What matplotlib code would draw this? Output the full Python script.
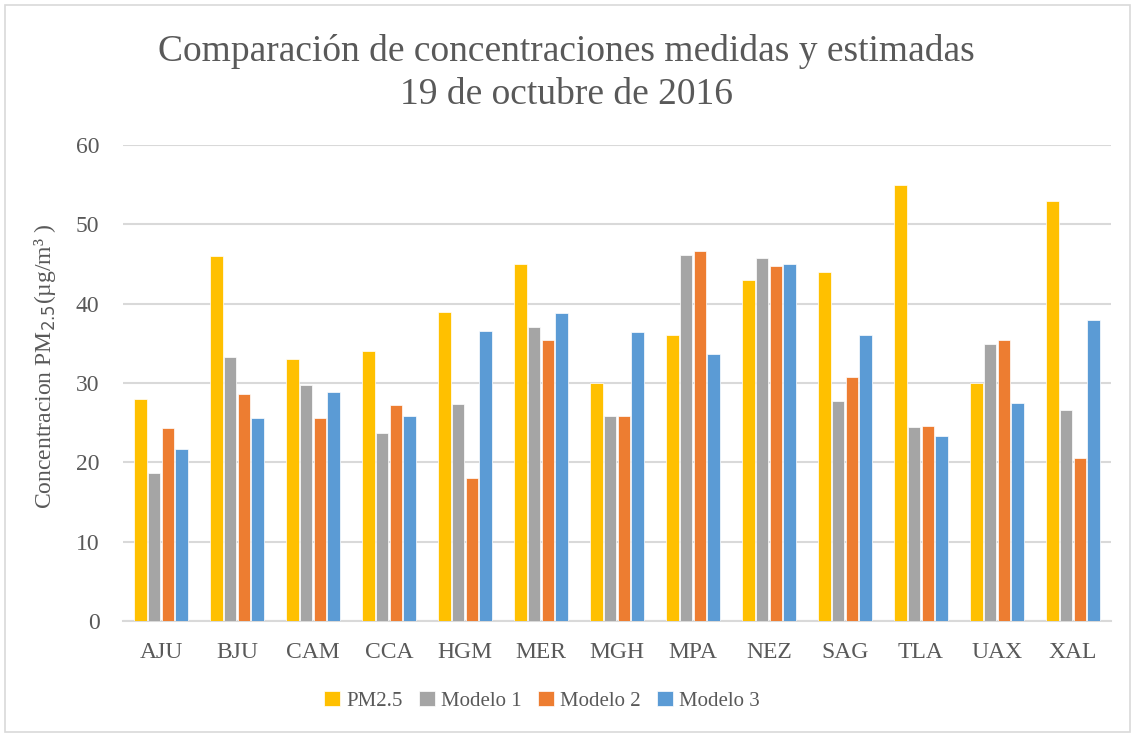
import matplotlib
matplotlib.use("Agg")
import matplotlib.pyplot as plt
import numpy as np
from matplotlib.patches import Rectangle

estaciones = ["AJU", "BJU", "CAM", "CCA", "HGM", "MER", "MGH", "MPA", "NEZ", "SAG", "TLA", "UAX", "XAL"]
pm25 = [28, 46, 33, 34, 39, 45, 30, 36, 43, 44, 55, 30, 53]
modelo1 = [18.7, 33.3, 29.7, 23.7, 27.3, 37.0, 25.9, 46.1, 45.8, 27.7, 24.4, 34.9, 26.6]
modelo2 = [24.3, 28.6, 25.6, 27.2, 18.0, 35.4, 25.9, 46.6, 44.7, 30.7, 24.6, 35.4, 20.6]
modelo3 = [21.7, 25.6, 28.9, 25.8, 36.5, 38.8, 36.4, 33.6, 45.0, 36.0, 23.3, 27.5, 37.9]

series = [("PM2.5", pm25, "#FFC000"),
          ("Modelo 1", modelo1, "#A5A5A5"),
          ("Modelo 2", modelo2, "#ED7D31"),
          ("Modelo 3", modelo3, "#5B9BD5")]

plt.rcParams['font.family'] = ['Liberation Serif', 'DejaVu Serif']
gris = "#595959"

fig = plt.figure(figsize=(11.33, 7.34), dpi=100)
ax = fig.add_axes([123/1133, 1 - 621/734, (1111-123)/1133, (621-145)/734])

x = np.arange(len(estaciones))
w = 0.183
for i, (nombre, vals, color) in enumerate(series):
    ax.bar(x + (i - 1.5) * w, vals, w * 0.92, color=color, label=nombre,
           edgecolor="white", linewidth=0.5, zorder=3)

ax.set_xlim(-0.5, len(estaciones) - 0.5)
ax.set_ylim(0, 60)
ax.set_yticks(range(0, 61, 10))
ax.set_xticks(x)
ax.set_xticklabels(estaciones)
ax.grid(axis="y", color="#D9D9D9", linewidth=1.5, zorder=0)
for s in ["top", "right", "left"]:
    ax.spines[s].set_visible(False)
ax.spines["bottom"].set_color("#D9D9D9")
ax.spines["bottom"].set_linewidth(1.5)
ax.tick_params(axis="both", length=0, labelsize=17, colors=gris)
ax.tick_params(axis="x", pad=15)
ax.tick_params(axis="y", pad=17)

ax.set_ylabel("Concentracion PM$_{2.5}$(µg/m³ )", fontsize=17, color=gris)
ax.yaxis.set_label_coords((58 - 123)/988, (621 - 366)/476)

fig.text(0.5, 1 - 73/734, "Comparación de concentraciones medidas y estimadas\n19 de octubre de 2016",
         ha="center", va="center", fontsize=27, color=gris, linespacing=1.3)

ax.legend(loc="center", bbox_to_anchor=(0.5 + (542 - 617)/988, (621 - 701)/476), ncol=4,
          frameon=False, fontsize=15, handlelength=0.75, handleheight=0.75,
          handletextpad=0.3, columnspacing=0.8, labelcolor=gris)

fig.patches.append(Rectangle((5/1133, 2/734), 1 - 8/1133, 1 - 7/734, transform=fig.transFigure,
                             fill=False, edgecolor="#D9D9D9", linewidth=1.2))

fig.savefig("out.png", dpi=100)
